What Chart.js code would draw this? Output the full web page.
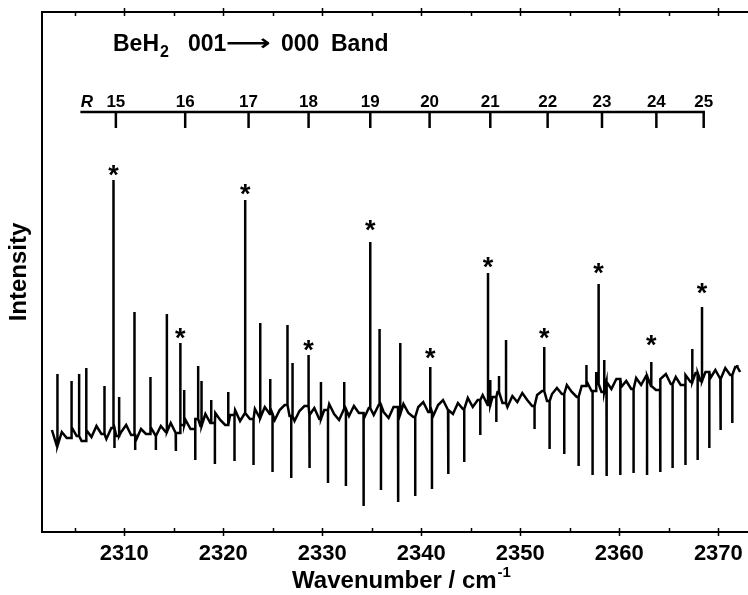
<!DOCTYPE html>
<html>
<head>
<meta charset="utf-8">
<script src="https://cdn.jsdelivr.net/npm/chart.js@4.4.1/dist/chart.umd.min.js"></script>
<style>
  html, body { margin: 0; padding: 0; background: #fff; overflow: hidden; }
  #wrap { width: 754px; height: 595px; }
</style>
</head>
<body>
<div id="wrap"><canvas id="spectrumChart" width="754" height="595"></canvas></div>
<script>
// noisy baseline, sampled every 0.5 cm-1 starting at 2302.7
const baseStart = 2302.7;
const baseStep = 0.5;
const baseline = [
  102, 86, 100, 94, 105, 96, 91, 102, 95, 106, 98, 93, 104, 96, 100, 107, 97, 92, 103, 98, 105,
  96, 106, 100, 109, 99, 107, 112, 103, 113, 106,
  118, 109, 119, 112, 107, 117, 122, 111, 119, 113,
  123, 114, 125, 118, 112, 122, 127, 116, 111, 121, 126, 117, 124, 113, 122, 128, 118, 112, 123, 116,
  126, 119, 113, 124, 117, 127, 120, 114, 125, 118,
  128, 119, 115, 125, 130, 120, 116, 127, 132, 122, 118, 129, 123, 134, 125,
  132, 137, 127, 135, 140, 129, 125, 136, 130, 139, 132, 126, 137, 141, 131,
  138, 144, 138, 147, 140, 135, 146, 151, 141, 148, 140, 150, 143, 153, 145,
  151, 143, 154, 147, 156, 146, 142, 153, 158, 148, 155, 147, 157, 150, 159,
  151, 160, 154, 162, 153, 164, 157, 165, 160
];

// R-branch lines of the 001 -> 000 band (marked with *), [wavenumber, tip]
const starLines = [
  [2308.92, 352], [2315.66, 189], [2322.22, 332], [2328.62, 177], [2334.85, 290], [2340.91, 165],
  [2346.74, 259], [2352.42, 185], [2357.91, 248], [2363.23, 170], [2368.35, 225]
];
const starHeights = [362, 199, 343, 187, 307, 179, 270, 199, 264, 192, 244];

// other emission lines, [wavenumber, tip]
const upLines = [
  [2303.26, 158], [2304.68, 151], [2305.45, 158], [2306.16, 164], [2308.01, 146], [2309.49, 135],
  [2311.04, 220], [2312.63, 155], [2314.31, 218], [2316.06, 142], [2317.47, 166], [2317.81, 151],
  [2318.79, 132], [2320.51, 140], [2323.74, 209], [2324.75, 153], [2326.49, 207], [2327.0, 169],
  [2329.87, 150], [2332.22, 150], [2335.79, 203], [2337.88, 189], [2346.97, 152], [2347.85, 156],
  [2348.56, 192], [2356.67, 167], [2357.65, 160], [2358.48, 172], [2367.37, 183], [2371.92, 167]
];

// absorption-like dips, [wavenumber, bottom]
const downLines = [
  [2309.02, 84], [2311.11, 82], [2313.2, 82], [2315.22, 81], [2317.17, 72], [2319.16, 68],
  [2321.14, 71], [2323.06, 67], [2324.98, 60], [2326.87, 54], [2328.72, 64], [2330.58, 49],
  [2332.39, 46], [2334.17, 26], [2335.93, 42], [2337.65, 30], [2339.39, 36], [2341.08, 43],
  [2342.73, 58], [2344.34, 70], [2345.96, 97], [2347.58, 110], [2351.44, 103], [2352.96, 83],
  [2354.44, 78], [2355.89, 66], [2357.3, 57], [2358.72, 56], [2360.1, 57], [2361.44, 59],
  [2362.8, 57], [2364.11, 60], [2365.38, 64], [2366.67, 67], [2367.91, 72], [2369.09, 84],
  [2370.23, 102], [2371.41, 109]
];

// R ladder
const rLabels = ['15', '16', '17', '18', '19', '20', '21', '22', '23', '24', '25'];
const rPositions = [2309.16, 2316.16, 2322.56, 2328.62, 2334.85, 2340.84, 2346.97, 2352.76, 2358.25, 2363.74, 2368.52];
const ladderStart = 2305.7;

const xTicks = [2310, 2320, 2330, 2340, 2350, 2360, 2370];
const xMinorTicks = [2305, 2315, 2325, 2335, 2345, 2355, 2365];

const FONT = '"Liberation Sans", Arial, sans-serif';

function buildTrace() {
  const pts = baseline.map((v, i) => ({ x: +(baseStart + i * baseStep).toFixed(2), y: v }));
  const spikes = [...upLines, ...starLines, ...downLines].sort((a, b) => a[0] - b[0]);
  const out = [];
  let k = 0;
  pts.forEach((p, i) => {
    out.push(p);
    const next = i + 1 < pts.length ? pts[i + 1].x : Infinity;
    while (k < spikes.length && spikes[k][0] < next) {
      const [w, tip] = spikes[k];
      if (w >= p.x) out.push({ x: w, y: p.y }, { x: w, y: tip }, { x: w, y: p.y });
      k++;
    }
  });
  return out;
}

const decorPlugin = {
  id: 'decor',
  afterDraw(chart) {
    const { ctx, chartArea: a, scales: { x, y } } = chart;
    ctx.save();
    ctx.strokeStyle = '#000';
    ctx.fillStyle = '#000';

    // top frame line
    ctx.lineWidth = 2;
    ctx.beginPath();
    ctx.moveTo(a.left - 1, a.top);
    ctx.lineTo(a.right, a.top);
    ctx.stroke();

    // inward ticks, majors cross the frame
    ctx.lineWidth = 1.5;
    const tickAt = (v, major) => {
      const px = Math.round(x.getPixelForValue(v)) + 0.5;
      ctx.beginPath();
      ctx.moveTo(px, a.bottom - 4);
      ctx.lineTo(px, a.bottom + (major ? 4 : 0));
      ctx.moveTo(px, a.top + 4);
      ctx.lineTo(px, a.top - (major ? 4 : 0));
      ctx.stroke();
    };
    xTicks.forEach(v => tickAt(v, true));
    xMinorTicks.forEach(v => tickAt(v, false));

    // heading
    ctx.textAlign = 'left';
    ctx.textBaseline = 'alphabetic';
    ctx.font = 'bold 23px ' + FONT;
    ctx.fillText('BeH', 113, 51);
    const beW = ctx.measureText('BeH').width;
    ctx.font = 'bold 16px ' + FONT;
    ctx.fillText('2', 113 + beW + 1, 57);
    ctx.font = 'bold 23px ' + FONT;
    ctx.fillText('001', 188, 51);
    ctx.fillText('000', 281, 51);
    ctx.fillText('Band', 331, 51);
    ctx.save();
    ctx.font = 'bold 22px "DejaVu Sans", sans-serif';
    const arW = ctx.measureText('\u27F6').width;
    ctx.translate(226, 50);
    ctx.scale(45 / arW, 1);
    ctx.fillText('\u27F6', 0, 0);
    ctx.restore();

    // R ladder
    const ly = 112;
    const lastX = x.getPixelForValue(rPositions[rPositions.length - 1]);
    ctx.lineWidth = 2.5;
    ctx.lineCap = 'square';
    ctx.beginPath();
    ctx.moveTo(x.getPixelForValue(ladderStart), ly);
    ctx.lineTo(lastX, ly);
    ctx.stroke();
    ctx.lineCap = 'butt';
    ctx.font = 'bold 17px ' + FONT;
    ctx.textAlign = 'center';
    rPositions.forEach((w, i) => {
      const px = x.getPixelForValue(w);
      ctx.beginPath();
      ctx.moveTo(px, ly);
      ctx.lineTo(px, ly + 16);
      ctx.stroke();
      ctx.fillText(rLabels[i], px, ly - 5);
    });
    ctx.font = 'italic bold 17px ' + FONT;
    ctx.fillText('R', 87, ly - 5);

    // asterisks over the band lines
    ctx.font = 'bold 27px ' + FONT;
    const m = ctx.measureText('*');
    const off = (m.actualBoundingBoxAscent - m.actualBoundingBoxDescent) / 2;
    starLines.forEach(([w], i) => {
      ctx.fillText('*', x.getPixelForValue(w), y.getPixelForValue(starHeights[i]) + off);
    });

    // x axis title with superscript
    ctx.textAlign = 'left';
    ctx.font = 'bold 24px ' + FONT;
    const main = 'Wavenumber / cm';
    const mw = ctx.measureText(main).width;
    ctx.font = 'bold 15px ' + FONT;
    const sup = '-1';
    const sw = ctx.measureText(sup).width;
    const sx = 401 - (mw + sw) / 2;
    ctx.font = 'bold 24px ' + FONT;
    ctx.fillText(main, sx, 588);
    ctx.font = 'bold 15px ' + FONT;
    ctx.fillText(sup, sx + mw + 1, 577);

    ctx.restore();
  }
};

const ctx = document.getElementById('spectrumChart');
new Chart(ctx, {
  type: 'scatter',
  data: {
    datasets: [{
      data: buildTrace(),
      showLine: true,
      borderColor: '#000',
      borderWidth: 2.5,
      pointRadius: 0,
      tension: 0
    }]
  },
  options: {
    responsive: false,
    animation: false,
    layout: { padding: { top: 12, right: 0, bottom: 0, left: 0 } },
    plugins: { legend: { display: false }, tooltip: { enabled: false } },
    scales: {
      x: {
        type: 'linear',
        min: 2301.7,
        max: 2373.6,
        afterBuildTicks: s => { s.ticks = xTicks.map(v => ({ value: v })); },
        afterFit: s => { s.height = 63; },
        grid: { display: false, drawTicks: false },
        border: { display: true, color: '#000', width: 2 },
        ticks: {
          color: '#000', padding: 9, maxRotation: 0,
          callback: v => String(v),
          font: { family: FONT, weight: 'bold', size: 22 }
        }
      },
      y: {
        min: 0,
        max: 520,
        afterFit: s => { s.width = 42; },
        grid: { display: false, drawTicks: false },
        border: { display: true, color: '#000', width: 2 },
        ticks: { display: false },
        title: { display: true, text: 'Intensity', color: '#000', padding: { top: 5, bottom: 0 }, font: { family: FONT, weight: 'bold', size: 24 } }
      }
    }
  },
  plugins: [decorPlugin]
});
</script>
</body>
</html>
